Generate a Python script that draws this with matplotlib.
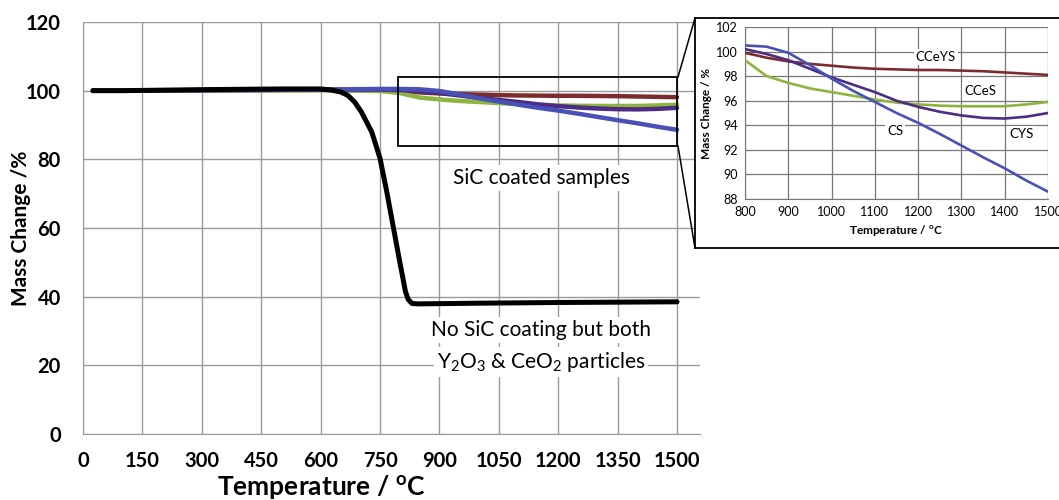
import matplotlib
matplotlib.use("Agg")
import matplotlib.pyplot as plt
from matplotlib.lines import Line2D
from matplotlib.patches import Rectangle

plt.rcParams['font.family'] = ['Lato', 'DejaVu Sans']
plt.rcParams['mathtext.default'] = 'regular'

# black curve: no SiC coating, Y2O3 + CeO2 particles
temp_bare = [25, 100, 300, 500, 600, 626, 651, 669, 686, 703, 716, 729, 737, 750, 767, 784,
             801, 806, 814, 821, 831, 849, 1000, 1200, 1500]
mass_bare = [100.0, 100.0, 100.3, 100.5, 100.5, 100.2, 99.6, 98.6, 96.7, 93.8, 90.9, 88.0, 85.1, 80.3, 70.6, 60.0,
             49.4, 46.5, 41.6, 39.2, 38.0, 37.9, 38.1, 38.3, 38.5]

# SiC coated samples
temp_sic = [25, 600, 750, 800, 850, 900, 950, 1000, 1050, 1100, 1150, 1200, 1250, 1300, 1350, 1400, 1450, 1500]
mass_cs = [100.0, 100.3, 100.5, 100.5, 100.4, 99.9, 98.9, 97.8, 96.8, 95.9, 95.0, 94.2, 93.3, 92.35, 91.4, 90.5, 89.5, 88.6]
mass_cys = [100.0, 100.3, 100.3, 100.2, 99.8, 99.3, 98.6, 97.9, 97.3, 96.7, 96.0, 95.5, 95.1, 94.8, 94.6, 94.55, 94.7, 95.0]
mass_cceys = [100.0, 100.2, 100.1, 99.9, 99.5, 99.2, 99.0, 98.85, 98.7, 98.6, 98.55, 98.5, 98.5, 98.45, 98.4, 98.3, 98.2, 98.1]
mass_cces = [100.0, 100.2, 99.9, 99.3, 98.0, 97.45, 97.0, 96.7, 96.4, 96.1, 95.85, 95.7, 95.6, 95.55, 95.55, 95.55, 95.7, 95.9]

main_xticks = list(range(0, 1501, 150))
main_yticks = list(range(0, 121, 20))
inset_xticks = list(range(800, 1501, 100))
inset_yticks = list(range(88, 103, 2))

series = [
    ("CCeYS", mass_cceys, "#7c2c2e"),
    ("CCeS", mass_cces, "#8db43e"),
    ("CYS", mass_cys, "#4d2c86"),
    ("CS", mass_cs, "#4852b6"),
]

W, H = 1059, 500
fig = plt.figure(figsize=(W / 100, H / 100), dpi=100)


def fbox(x0, y0, x1, y1):
    # pixel box (top-left origin) -> figure fraction rect
    return [x0 / W, 1 - y1 / H, (x1 - x0) / W, (y1 - y0) / H]


grid_col = "#9a9a9a"

# ---- main chart
ax = fig.add_axes(fbox(83, 22, 700, 434))
for name, vals, col in series:
    ax.plot(temp_sic, vals, color=col, lw=3.2, solid_capstyle='round', zorder=3)
ax.plot(temp_bare, mass_bare, color="black", lw=3.6, solid_capstyle='round',
        solid_joinstyle='round', zorder=4)

ax.set_xlim(0, 1558)
ax.set_ylim(0, 120)
ax.set_xticks(main_xticks)
ax.set_yticks(main_yticks)
ax.tick_params(length=0, labelsize=14.5)
ax.tick_params(axis='x', pad=12)
ax.tick_params(axis='y', pad=16)
for lab in ax.get_xticklabels() + ax.get_yticklabels():
    lab.set_fontweight('bold')
ax.grid(True, color=grid_col, lw=1)
ax.set_axisbelow(True)
for s in ['top', 'right']:
    ax.spines[s].set_visible(False)
for s in ['left', 'bottom']:
    ax.spines[s].set_color(grid_col)
ax.set_ylabel("Mass Change /%", fontsize=15, fontweight='bold', labelpad=-4)
fig.text(321 / W, 1 - 487 / H, "Temperature / $^{o}$C", fontsize=19, fontweight='bold',
         ha='center', va='center')

ax.add_patch(Rectangle((795, 84), 705, 20, fill=False, ec="black", lw=1.3, zorder=5))

wb = dict(facecolor='white', edgecolor='none', pad=2)
ax.text(1157, 74.6, "SiC coated samples", fontsize=15, ha='center', va='center', bbox=wb, zorder=2)
ax.text(1157, 30.3, "No SiC coating but both", fontsize=15, ha='center', va='center', bbox=wb, zorder=2)
ax.text(1157, 21.0, "Y$_2$O$_3$ & CeO$_2$ particles", fontsize=15, ha='center', va='center', bbox=wb, zorder=2)

# ---- inset frame and connectors
frame = fig.add_axes(fbox(695, 18, 1070, 248))
frame.set_xticks([])
frame.set_yticks([])
frame.patch.set_facecolor('white')
for s in frame.spines.values():
    s.set_color('black')
    s.set_linewidth(1.3)

for (x0, y0, x1, y1) in [(678, 77, 695, 18), (678, 146, 695, 248)]:
    fig.add_artist(Line2D([x0 / W, x1 / W], [1 - y0 / H, 1 - y1 / H], color='black', lw=1.1))

# ---- inset chart
ins = fig.add_axes(fbox(745, 27, 1048, 199))
for name, vals, col in series:
    ins.plot(temp_sic, vals, color=col, lw=1.9, zorder=3)
ins.set_xlim(800, 1500)
ins.set_ylim(88, 102)
ins.set_xticks(inset_xticks)
ins.set_yticks(inset_yticks)
ins.tick_params(length=0, labelsize=9, pad=5)
ins.grid(True, color="#777777", lw=0.9)
ins.set_axisbelow(True)
for s in ['top', 'right']:
    ins.spines[s].set_visible(False)
for s in ['left', 'bottom']:
    ins.spines[s].set_color("#777777")
ins.set_ylabel("Mass Change / %", fontsize=8.5, fontweight='bold', labelpad=3)
ins.set_xlabel("Temperature / $^{o}$C", fontsize=8.5, fontweight='bold', labelpad=4)

wb2 = dict(facecolor='white', edgecolor='none', pad=1.5)
ins.text(1241, 99.56, "CCeYS", fontsize=9.5, ha='center', va='center', bbox=wb2, zorder=2)
ins.text(1343, 96.8, "CCeS", fontsize=9.5, ha='center', va='center', bbox=wb2, zorder=2)
ins.text(1147, 93.5, "CS", fontsize=9.5, ha='center', va='center', bbox=wb2, zorder=2)
ins.text(1438, 93.3, "CYS", fontsize=9.5, ha='center', va='center', bbox=wb2, zorder=2)

fig.savefig("out.png", dpi=100)
